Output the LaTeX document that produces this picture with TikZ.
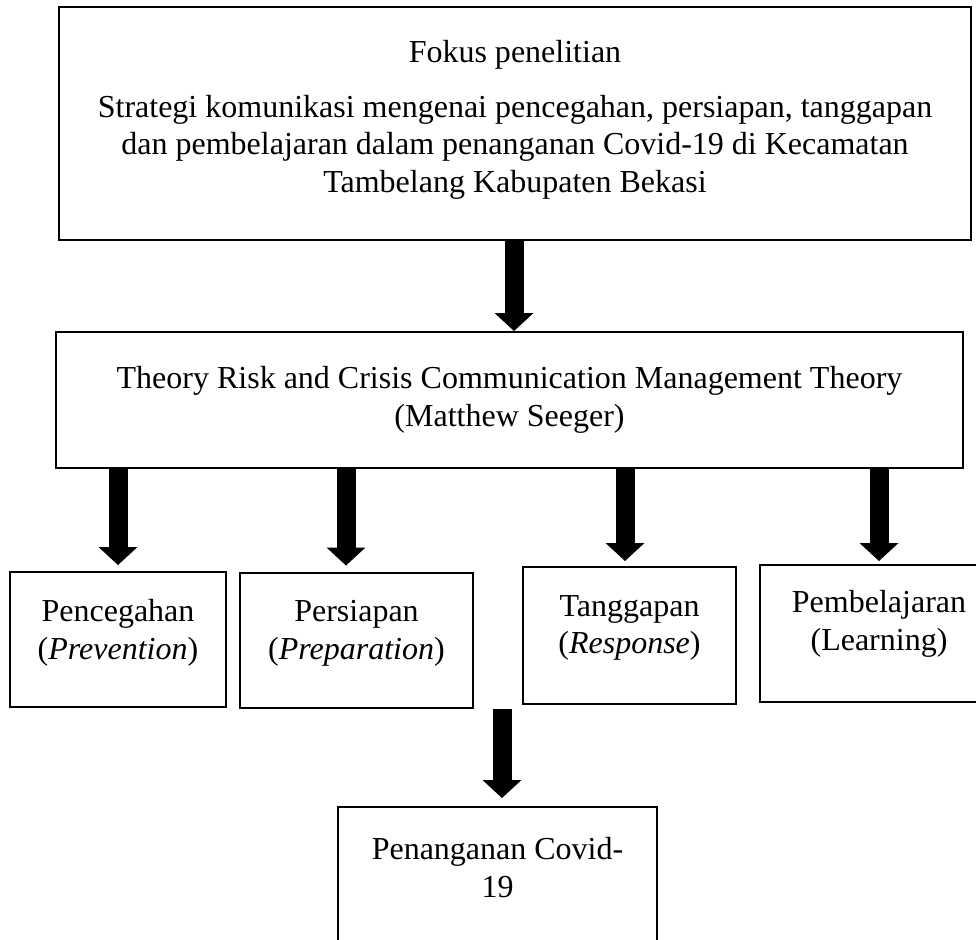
\documentclass[tikz,border=0pt]{standalone}
\usepackage{fontspec}
\setmainfont{Liberation Serif}
\usetikzlibrary{arrows.meta,positioning}

\begin{document}
\begin{tikzpicture}[x=1pt, y=-1pt,
    box/.style={draw, rectangle, line width=2pt, align=center, inner sep=0pt,
                font=\fontsize{32}{37.5}\selectfont},
    arr/.style={-{Triangle[length=18pt,width=39pt,line width=0pt]}, line width=19pt},
  ]
  \useasboundingbox (0,0) rectangle (976,939);

  \node[box, minimum width=912pt, minimum height=233pt, text depth=15pt] (A) at (515,123.5)
    {Fokus penelitian\\[17.5pt]Strategi komunikasi mengenai pencegahan, persiapan, tanggapan\\
     dan pembelajaran dalam penanganan Covid-19 di Kecamatan\\Tambelang Kabupaten Bekasi};
  \node[box, minimum width=907pt, minimum height=136pt] (B) at (509.5,400)
    {Theory Risk and Crisis Communication Management Theory\\(Matthew Seeger)};

  \node[box, minimum width=216pt, minimum height=135pt, text depth=20pt] (C) at (118,639.5)
    {Pencegahan\\(\textit{Prevention})};
  \node[box, minimum width=233pt, minimum height=135pt, text depth=20pt] (D) at (356.5,640)
    {Persiapan\\(\textit{Preparation})};
  \node[box, minimum width=213pt, minimum height=137pt, text depth=22pt] (E) at (629.5,635.5)
    {Tanggapan\\(\textit{Response})};
  \node[box, minimum width=238pt, minimum height=137pt, text depth=26pt] (F) at (879,633.5)
    {Pembelajaran\\(Learning)};

  \coordinate (S) at (502,709);
  \node[box, minimum width=319pt, minimum height=137pt, text depth=16pt] (G) at (497.5,875.5)
    {Penanganan Covid-\\19};

  \draw[arr] ([xshift=-1pt]A.south) -- ([xshift=-1pt]A.south |- B.north);
  \draw[arr, shorten >=6pt] (B.south -| C.north) -- (C.north);
  \draw[arr, shorten >=6pt] ([xshift=-10.5pt]D.north |- B.south) -- ([xshift=-10.5pt]D.north);
  \draw[arr, shorten >=5pt] ([xshift=-4.5pt]E.north |- B.south) -- ([xshift=-4.5pt]E.north);
  \draw[arr, shorten >=3pt] (B.south -| F.north) -- (F.north);
  \draw[arr, shorten >=8pt] (S) -- (S |- G.north);
\end{tikzpicture}
\end{document}
